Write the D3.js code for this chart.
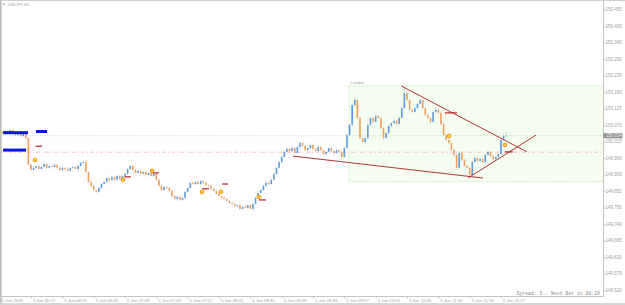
<!DOCTYPE html>
<html><head><meta charset="utf-8">
<script src="https://cdn.jsdelivr.net/npm/d3@7"></script>
<style>html,body{margin:0;padding:0;background:#fff;overflow:hidden}</style>
</head><body><svg id="c" width="625" height="305"></svg>
<script>
// ---------------- data ----------------
const symbolTitle = "USDJPY,M1";
const firstBarMinute = 335;      // 05:35
const barStepMinutes = 2;
const firstOpen = 150.046;
const closes = [
150.043,150.050,150.040,150.053,150.046,150.036,150.043,150.033,150.040,150.026,
149.937,149.920,149.927,149.933,149.923,149.930,149.940,149.927,149.933,149.930,
149.937,149.927,149.920,149.927,149.923,149.917,149.927,149.930,149.923,149.933,
149.943,149.946,149.913,149.880,149.867,149.853,149.847,149.860,149.873,149.880,
149.893,149.887,149.897,149.887,149.900,149.890,149.900,149.907,149.923,149.933,
149.920,149.910,149.917,149.907,149.913,149.903,149.910,149.900,149.907,149.887,
149.867,149.853,149.863,149.860,149.850,149.833,149.823,149.830,149.820,149.827,
149.847,149.860,149.877,149.873,149.880,149.873,149.883,149.877,149.870,149.867,
149.857,149.850,149.840,149.833,149.827,149.823,149.817,149.810,149.807,149.800,
149.803,149.790,149.797,149.793,149.803,149.790,149.807,149.827,149.843,149.853,
149.867,149.877,149.873,149.887,149.907,149.927,149.946,149.963,149.980,149.990,
149.983,149.993,149.976,149.996,150.010,150.000,149.986,149.993,150.003,149.990,
149.983,149.996,149.986,149.973,149.980,149.993,149.983,149.976,149.986,149.980,
149.963,149.993,150.036,150.070,150.136,150.153,150.093,150.026,150.013,150.026,
150.070,150.093,150.080,150.100,150.093,150.060,150.026,150.043,150.066,150.076,
150.083,150.073,150.093,150.126,150.176,150.153,150.120,150.113,150.126,150.140,
150.153,150.126,150.103,150.093,150.080,150.113,150.120,150.110,150.073,150.036,
150.020,150.010,149.986,149.970,149.927,149.976,149.953,149.933,149.927,149.903,
149.946,149.960,149.950,149.956,149.946,149.970,149.980,149.966,149.956,149.963,
149.973,150.020,150.033,150.034];
// wick extents beyond the body, in points (0.001)
const upperWick = [
4,3,5,2,4,3,6,3,4,5, 3,4,6,3,5,4,7,3,5,4, 6,3,4,5,3,6,4,5,3,6, 4,5,3,4,6,3,5,4,6,3,
5,4,6,3,5,4,3,6,4,5, 6,3,5,4,3,5,4,6,3,4, 5,4,6,3,5,4,3,5,6,4, 3,5,4,6,3,5,4,3,5,4,
6,3,4,5,3,4,6,3,5,4, 3,5,4,6,3,5,4,3,6,5, 4,6,3,5,4,3,6,5,4,7, 5,8,4,6,5,3,7,4,6,5,
4,6,5,3,7,4,5,6,4,5, 6,5,7,4,6,8,5,6,4,7, 5,6,4,7,5,6,4,5,7,4, 6,5,7,4,24,6,5,4,6,5,
7,4,5,6,4,8,5,6,4,5, 6,4,7,5,4,6,5,7,4,5, 6,4,5,7,4,6,5,4,6,5, 4,6,7,12];
const lowerWick = [
3,5,2,4,3,5,3,4,6,3, 5,4,3,6,4,3,5,4,3,6, 4,5,3,4,6,3,5,4,3,5, 4,3,5,4,6,6,5,3,4,5,
3,6,4,5,3,4,6,3,5,4, 5,4,3,6,4,5,3,4,6,3, 5,4,3,6,4,5,3,6,4,5, 3,4,6,3,5,4,3,5,4,6,
4,3,5,4,6,3,5,4,6,3, 5,6,4,3,5,4,6,3,4,5, 3,5,4,6,3,5,4,6,3,5, 4,6,5,3,7,4,6,5,3,6,
5,4,7,3,6,5,4,6,3,5, 8,4,6,5,4,7,5,6,4,6, 5,4,6,5,3,6,7,4,5,6, 4,5,6,3,5,6,4,5,3,6,
5,6,4,5,7,4,6,5,7,4, 6,5,4,7,5,6,4,5,6,10, 5,4,6,5,3,5,4,6,5,4, 5,4,6,3];

const priceTicks = [150.455,150.400,150.345,150.290,150.235,150.180,150.125,150.070,150.015,
  149.960,149.905,149.850,149.795,149.740,149.685,149.630,149.575,149.520];
const timeTickMinutes = [333,357,381,405,429,453,477,501,525,549,573,597,621,645,669,693,717];
const timeTickLabels = ["5 Jun 2023","5 Jun 05:57","5 Jun 06:21","5 Jun 06:45","5 Jun 07:09",
  "5 Jun 07:33","5 Jun 07:57","5 Jun 08:21","5 Jun 08:45","5 Jun 09:09","5 Jun 09:33",
  "5 Jun 09:57","5 Jun 10:21","5 Jun 10:45","5 Jun 11:09","5 Jun 11:33","5 Jun 11:57"];

const bidPrice = 150.034;
const pinkLevel = 149.979;
const londonBox = {label: "London", startMinute: 600, high: 150.200, low: 149.881};
// trendlines: [minute0, price0, minute1, price1]
const trendLines = [
  [557.7, 149.966, 703.2, 149.893],
  [640.4, 150.200, 736.9, 149.980],
  [691.7, 149.893, 743.8, 150.036]
];
// short red target marks: [minute0, minute1, price]
const targetMarks = [
  [360.5,365.5,149.999],[428.5,433.5,149.897],[450,455,149.910],[488,493.5,149.857],
  [503.5,508,149.873],[531.5,537,149.820],[674,683.3,150.110],[720,726,149.980]
];
// orange signal dots: [minute, price]
const signalDots = [
  [360,149.953],[427.5,149.887],[449.7,149.917],[488,149.847],[502.5,149.847],
  [531.6,149.830],[677.2,150.033],[720,150.003]
];
// blue level bars: [minute0, minute1, price]
const blueLevels = [[335.6,354.7,150.044],[360.8,369.3,150.048],[335.6,353.2,149.986]];
const spreadText = "Spread: 5.. Next Bar in 00:29";

// ---------------- drawing ----------------
const W = 625, H = 305, plotR = 603, plotB = 296;
const svg = d3.select("#c");
const x = d3.scaleLinear().domain([357, 717]).range([31, 501]);
const y = d3.scaleLinear().domain([149.520, 150.455]).range([290, 9.3]);

svg.append("rect").attr("width", W).attr("height", H).attr("fill", "#ffffff");
svg.append("defs").append("clipPath").attr("id","pc").append("rect")
  .attr("x",0).attr("y",0).attr("width",plotR).attr("height",plotB);
const g = svg.append("g").attr("clip-path","url(#pc)");

// London box
g.append("rect")
  .attr("x", x(londonBox.startMinute) + 0.5).attr("y", y(londonBox.high))
  .attr("width", plotR - x(londonBox.startMinute) + 2)
  .attr("height", y(londonBox.low) - y(londonBox.high))
  .attr("fill", "#f4fdef").attr("stroke", "#a9dc9c").attr("stroke-width", 0.8)
  .attr("stroke-dasharray", "1,1.5");
g.append("text").attr("x", x(londonBox.startMinute) + 2.5).attr("y", y(londonBox.high) - 2)
  .attr("font-family","Liberation Sans, Arial, sans-serif").attr("font-size", 4)
  .attr("fill", "#9a9a9a").text(londonBox.label);

// horizontal levels
g.append("line").attr("x1",0).attr("x2",plotR).attr("y1",y(bidPrice)).attr("y2",y(bidPrice))
  .attr("stroke","#a8dca8").attr("stroke-width",0.8).attr("stroke-dasharray","1,1.5");
g.append("line").attr("x1",0).attr("x2",plotR).attr("y1",y(pinkLevel)).attr("y2",y(pinkLevel))
  .attr("stroke","#f6b4b4").attr("stroke-width",0.8).attr("stroke-dasharray","4,2,1,2");

// candles
const bars = closes.map((c, i) => {
  const o = i === 0 ? firstOpen : closes[i - 1];
  return {m: firstBarMinute + i * barStepMinutes, o, c,
    h: Math.max(o, c) + upperWick[i] / 1000, l: Math.min(o, c) - lowerWick[i] / 1000};
});
const bull = "#5f9be0", bear = "#f0a05a", wick = "#cfd6df";
g.append("g").selectAll("line").data(bars).join("line")
  .attr("x1", d => x(d.m)).attr("x2", d => x(d.m))
  .attr("y1", d => y(d.h)).attr("y2", d => y(d.l))
  .attr("stroke", wick).attr("stroke-width", 0.7);
g.append("g").selectAll("rect").data(bars).join("rect")
  .attr("x", d => x(d.m) - 0.8).attr("width", 1.6)
  .attr("y", d => y(Math.max(d.o, d.c)))
  .attr("height", d => Math.max(0.6, Math.abs(y(d.o) - y(d.c))))
  .attr("fill", d => d.c >= d.o ? bull : bear);

// trendlines
g.append("g").selectAll("line").data(trendLines).join("line")
  .attr("x1", d => x(d[0])).attr("y1", d => y(d[1]))
  .attr("x2", d => x(d[2])).attr("y2", d => y(d[3]))
  .attr("stroke", "#b03434").attr("stroke-width", 1);

// target marks
g.append("g").selectAll("line").data(targetMarks).join("line")
  .attr("x1", d => x(d[0])).attr("x2", d => x(d[1]))
  .attr("y1", d => y(d[2])).attr("y2", d => y(d[2]))
  .attr("stroke", "#b22222").attr("stroke-width", 1.2);

// blue level bars
g.append("g").selectAll("line").data(blueLevels).join("line")
  .attr("x1", d => x(d[0])).attr("x2", d => x(d[1]))
  .attr("y1", d => y(d[2])).attr("y2", d => y(d[2]))
  .attr("stroke", "#0a14e6").attr("stroke-width", 3);

// signal dots
g.append("g").selectAll("circle").data(signalDots).join("circle")
  .attr("cx", d => x(d[0])).attr("cy", d => y(d[1])).attr("r", 1.8)
  .attr("fill", "#ffd24a").attr("stroke", "#f39200").attr("stroke-width", 1);

// frame
svg.append("line").attr("x1",0).attr("x2",W).attr("y1",0.5).attr("y2",0.5).attr("stroke","#cfcfcf");
svg.append("line").attr("x1",0.8).attr("x2",0.8).attr("y1",0).attr("y2",H).attr("stroke","#bdbdbd").attr("stroke-width",1.6);
svg.append("line").attr("x1",plotR+0.5).attr("x2",plotR+0.5).attr("y1",0).attr("y2",plotB+0.5).attr("stroke","#c4c4c4");
svg.append("line").attr("x1",0).attr("x2",plotR+0.5).attr("y1",plotB+0.5).attr("y2",plotB+0.5).attr("stroke","#c4c4c4");
svg.append("rect").attr("x",0).attr("y",H-2).attr("width",W).attr("height",2).attr("fill","#d6d6d6");

// title
svg.append("text").attr("x",2.5).attr("y",6.3).attr("font-family","Liberation Sans, Arial, sans-serif")
  .attr("font-size",4.5).attr("fill","#9a9a9a").text("\u2261");
svg.append("text").attr("x",7.5).attr("y",6).attr("font-family","Liberation Sans, Arial, sans-serif")
  .attr("font-size",4).attr("fill","#a6a6a6").text(symbolTitle);

// price axis
const yAxis = d3.axisRight(y).tickValues(priceTicks).tickSize(2).tickFormat(d3.format(".3f"));
const ya = svg.append("g").attr("transform", `translate(${plotR + 0.5},0)`).call(yAxis);
ya.select(".domain").remove();
ya.selectAll("line").attr("stroke","#c4c4c4");
ya.selectAll("text").attr("x",2).attr("font-family","Liberation Sans, Arial, sans-serif")
  .attr("font-size",4.5).attr("fill","#a0a0a0");

// current price label
svg.append("rect").attr("x",plotR+0.5).attr("y",y(bidPrice)-2.6).attr("width",19).attr("height",5.2).attr("fill","#8f8f8f");
svg.append("text").attr("x",plotR+2.5).attr("y",y(bidPrice)).attr("dy","0.34em")
  .attr("font-family","Liberation Sans, Arial, sans-serif").attr("font-size",4.5)
  .attr("fill","#f0f0f0").text(d3.format(".3f")(bidPrice));

// time axis
const xAxis = d3.axisBottom(x).tickValues(timeTickMinutes).tickSize(2)
  .tickFormat((d, i) => timeTickLabels[i]);
const xa = svg.append("g").attr("transform", `translate(0,${plotB + 0.5})`).call(xAxis);
xa.select(".domain").remove();
xa.selectAll("line").attr("stroke","#c4c4c4");
xa.selectAll("text").attr("text-anchor","start").attr("x",1.5).attr("y",2).attr("dy","0.75em")
  .attr("font-family","Liberation Sans, Arial, sans-serif").attr("font-size",4.3).attr("fill","#a0a0a0");

// spread text
svg.append("text").attr("x",600).attr("y",294.5).attr("text-anchor","end")
  .attr("font-family","Liberation Mono, Courier New, monospace").attr("font-size",4.8)
  .attr("fill","#8a8a8a").text(spreadText);
</script></body></html>
